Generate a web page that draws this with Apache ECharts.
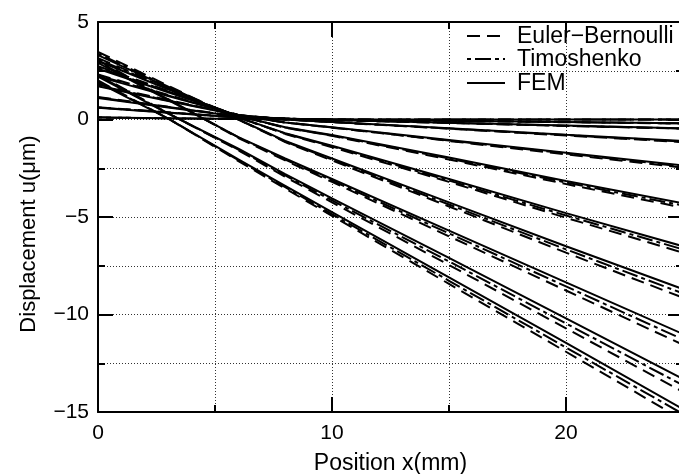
<!DOCTYPE html>
<html>
<head>
<meta charset="utf-8">
<script src="https://cdn.jsdelivr.net/npm/echarts@6/dist/echarts.min.js"></script>
<style>
html,body{margin:0;padding:0;background:#fff;}
#chart{width:679px;height:474px;}
</style>
</head>
<body>
<div id="chart"></div>
<script>
// x positions (mm) at which the curves were read
const xs = [0, 3, 6, 8, 10, 15, 20, 25];

// FEM (solid)
const femCurves = [
  [0.1, 0.06, 0.03, 0.01, 0.0, 0.0, 0.0, 0.0],
  [0.6, 0.35, 0.1, 0.04, 0.0, -0.07, -0.13, -0.2],
  [1.1, 0.62, 0.15, 0.05, -0.03, -0.17, -0.31, -0.45],
  [1.7, 0.95, 0.22, 0.0, -0.13, -0.45, -0.78, -1.1],
  [2.2, 1.2, 0.22, -0.15, -0.4, -1.05, -1.7, -2.35],
  [2.6, 1.4, 0.18, -0.4, -0.8, -1.95, -3.15, -4.3],
  [3.0, 1.55, 0.1, -0.7, -1.35, -3.05, -4.8, -6.5],
  [3.3, 1.65, 0.0, -1.1, -2.0, -4.25, -6.5, -8.7],
  [2.9, 1.0, -0.9, -2.0, -3.05, -5.7, -8.35, -11.0],
  [2.2, 0.3, -1.5, -2.8, -4.05, -7.1, -10.2, -13.3],
  [1.9, 0.05, -2.05, -3.4, -4.75, -8.1, -11.45, -14.85]
];

// Timoshenko (dash-dot)
const timoCurves = [
  [0.1, 0.06, 0.03, 0.01, 0.0, 0.0, 0.0, 0.0],
  [0.62, 0.36, 0.1, 0.04, 0.0, -0.07, -0.13, -0.2],
  [1.13, 0.64, 0.15, 0.05, -0.03, -0.17, -0.32, -0.46],
  [1.74, 0.97, 0.23, 0.0, -0.13, -0.46, -0.8, -1.13],
  [2.26, 1.23, 0.23, -0.15, -0.41, -1.08, -1.74, -2.41],
  [2.67, 1.44, 0.18, -0.41, -0.82, -2.0, -3.23, -4.41],
  [3.08, 1.59, 0.1, -0.72, -1.38, -3.13, -4.92, -6.66],
  [3.38, 1.69, 0.0, -1.13, -2.05, -4.36, -6.66, -8.92],
  [2.97, 1.03, -0.92, -2.05, -3.13, -5.84, -8.56, -11.28],
  [2.26, 0.31, -1.54, -2.87, -4.15, -7.28, -10.46, -13.63],
  [1.95, 0.05, -2.09, -3.47, -4.85, -8.27, -11.69, -15.1]
];

// Euler-Bernoulli (dashed)
const ebCurves = [
  [0.11, 0.06, 0.03, 0.01, 0.0, 0.0, 0.0, 0.0],
  [0.63, 0.37, 0.11, 0.04, 0.0, -0.07, -0.14, -0.21],
  [1.16, 0.65, 0.16, 0.05, -0.03, -0.18, -0.33, -0.47],
  [1.79, 1.0, 0.23, 0.0, -0.14, -0.47, -0.82, -1.16],
  [2.31, 1.26, 0.23, -0.16, -0.42, -1.1, -1.79, -2.47],
  [2.73, 1.47, 0.19, -0.42, -0.84, -2.05, -3.31, -4.52],
  [3.15, 1.63, 0.11, -0.74, -1.42, -3.2, -5.04, -6.83],
  [3.47, 1.73, 0.0, -1.16, -2.1, -4.46, -6.83, -9.14],
  [3.05, 1.05, -0.95, -2.1, -3.2, -5.99, -8.77, -11.55],
  [2.31, 0.32, -1.58, -2.94, -4.25, -7.46, -10.71, -13.97],
  [2.0, 0.05, -2.13, -3.54, -4.94, -8.43, -11.91, -15.4]
];

const xTickLabels = [0, 10, 20];
const yTickLabels = [5, 0, -5, -10, -15];
const legendNames = ['Euler\u2212Bernoulli', 'Timoshenko', 'FEM'];

const FONT = '"Liberation Sans", Arial, Helvetica, sans-serif';
const BLACK = '#000';
const DASH = [13, 7];
const DASHDOT = [4, 4, 16, 4];

function makeSeries(name, curves, dash) {
  return curves.map(function (c) {
    return {
      type: 'line',
      name: name,
      data: xs.map(function (x, i) { return [x, c[i]]; }),
      symbol: 'none',
      silent: true,
      clip: true,
      lineStyle: { color: BLACK, width: 2, type: dash },
      itemStyle: { color: BLACK }
    };
  });
}

const series = []
  .concat(makeSeries(legendNames[0], ebCurves, DASH))
  .concat(makeSeries(legendNames[1], timoCurves, DASHDOT))
  .concat(makeSeries(legendNames[2], femCurves, 'solid'));

function fmtMinus(v) { return String(v).replace('-', '\u2212'); }

const gridLine = { show: true, lineStyle: { type: [1, 2], color: '#333', width: 1 } };

function xAx(pos, tickLen, showLine, opts) {
  return Object.assign({
    type: 'value', position: pos, min: 0, max: 25,
    axisLine: { show: showLine, onZero: false, lineStyle: { color: BLACK, width: 2 } },
    axisTick: { show: true, inside: true, length: tickLen, lineStyle: { color: BLACK, width: 2 } },
    axisLabel: { show: false },
    splitLine: { show: false }
  }, opts);
}
function yAx(pos, tickLen, showLine, opts) {
  return Object.assign({
    type: 'value', position: pos, min: -15, max: 5,
    axisLine: { show: showLine, onZero: false, lineStyle: { color: BLACK, width: 2 } },
    axisTick: { show: true, inside: true, length: tickLen, lineStyle: { color: BLACK, width: 2 } },
    axisLabel: { show: false },
    splitLine: { show: false }
  }, opts);
}

// legend drawn as graphic items (line sample + real text)
const legendX = 467, legendLineW = 38, legendTextX = 517;
const legendRows = [36, 59, 83];
const legendDashes = [DASH, DASHDOT, null];
const legendGraphics = [];
legendNames.forEach(function (n, i) {
  legendGraphics.push({
    type: 'line', silent: true,
    shape: { x1: legendX, y1: legendRows[i], x2: legendX + legendLineW, y2: legendRows[i] },
    style: { stroke: BLACK, lineWidth: 2, lineDash: legendDashes[i] }
  });
  legendGraphics.push({
    type: 'text', silent: true, x: legendTextX, y: legendRows[i] + 1,
    style: { text: n, fill: BLACK, font: '23px ' + FONT, textVerticalAlign: 'middle', verticalAlign: 'middle' }
  });
});

const option = {
  animation: false,
  backgroundColor: '#fff',
  textStyle: { fontFamily: FONT },
  grid: { left: 98, top: 22, width: 585, height: 390, containLabel: false, outerBoundsMode: 'none' },
  graphic: legendGraphics,
  xAxis: [
    xAx('bottom', 7, true, {
      interval: 5,
      splitLine: gridLine,
      axisLabel: {
        show: true, color: BLACK, fontSize: 21, fontFamily: FONT, margin: 11,
        formatter: function (v) { return xTickLabels.indexOf(v) >= 0 ? String(v) : ''; }
      },
      name: 'Position x(mm)', nameLocation: 'middle', nameGap: 40,
      nameTextStyle: { color: BLACK, fontSize: 23, fontFamily: FONT }
    }),
    xAx('bottom', 15, false, { interval: 10 }),
    xAx('top', 7, true, { interval: 5 }),
    xAx('top', 15, false, { interval: 10 })
  ],
  yAxis: [
    yAx('left', 7, true, {
      interval: 2.5,
      splitLine: gridLine,
      axisLabel: {
        show: true, color: BLACK, fontSize: 21, fontFamily: FONT, margin: 9,
        formatter: function (v) { return yTickLabels.indexOf(v) >= 0 ? fmtMinus(v) : ''; }
      },
      name: 'Displacement u(\u03bcm)', nameLocation: 'middle', nameGap: 58,
      nameTextStyle: { color: BLACK, fontSize: 22, fontFamily: FONT, padding: [0, 34, 0, 0] }
    }),
    yAx('left', 15, false, { interval: 5 }),
    yAx('right', 7, true, { interval: 2.5 }),
    yAx('right', 15, false, { interval: 5 })
  ],
  series: series
};

const chart = echarts.init(document.getElementById('chart'), null, { renderer: 'canvas' });
chart.setOption(option);
</script>
</body>
</html>
